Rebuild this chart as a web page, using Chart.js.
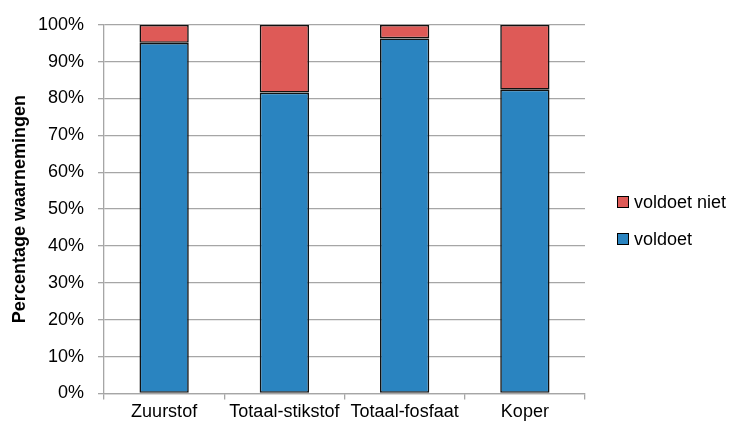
<!DOCTYPE html>
<html><head><meta charset="utf-8">
<script src="https://cdn.jsdelivr.net/npm/chart.js@4/dist/chart.umd.min.js"></script>
<style>
html,body{margin:0;padding:0;background:#fff;}
#wrap{position:relative;width:737px;height:425px;}
#legend{position:absolute;left:617px;top:192px;font-family:"Liberation Sans",Arial,sans-serif;font-size:18px;color:#000;}
#legend div{display:flex;align-items:center;height:20px;margin-bottom:17px;}
#legend span.box{display:inline-block;width:10px;height:10px;border:1.5px solid #000;margin-right:5px;}
</style></head>
<body><div id="wrap"><canvas id="c" width="737" height="425"></canvas><div id="legend"></div></div>
<script>
const categories = ["Zuurstof","Totaal-stikstof","Totaal-fosfaat","Koper"];
const voldoet = [95.1, 81.6, 96.3, 82.4];
const voldoetNiet = [4.9, 18.4, 3.7, 17.6];
const seriesNames = ["voldoet","voldoet niet"];
const colors = ["#2A84C0","#DE5A57"];
const yTicks = [0,10,20,30,40,50,60,70,80,90,100];

const FONT = '"Liberation Sans", Arial, sans-serif';
const chart = new Chart(document.getElementById('c'), {
  type: 'bar',
  data: {
    labels: categories,
    datasets: [
      {label: seriesNames[0], data: voldoet, backgroundColor: colors[0], borderColor:'#111', borderWidth:1.6, borderSkipped:false, barPercentage:0.41, categoryPercentage:1},
      {label: seriesNames[1], data: voldoetNiet, backgroundColor: colors[1], borderColor:'#111', borderWidth:1.6, borderSkipped:false, barPercentage:0.41, categoryPercentage:1}
    ]
  },
  options: {
    responsive:false, animation:false,
    layout:{padding:{top:23, right:152, left:9, bottom:0}},
    plugins:{legend:{display:false}, tooltip:{enabled:false}},
    scales:{
      x:{stacked:true, offset:true,
        grid:{display:true, offset:true, drawOnChartArea:false, drawTicks:true, tickLength:6, color:'#a6a6a6', lineWidth:1.3},
        border:{display:true, color:'#a6a6a6', width:1.3},
        ticks:{font:{family:FONT,size:18}, color:'#000', padding:2, maxRotation:0, autoSkip:false}
      },
      y:{stacked:true, min:0, max:100,
        afterBuildTicks: s => { s.ticks = yTicks.map(v=>({value:v})); },
        afterFit: s => { s.width = 95; },
        grid:{color:'#a6a6a6', lineWidth:1.3, tickLength:6},
        border:{display:true, color:'#a6a6a6', width:1.3},
        ticks:{font:{family:FONT,size:18}, color:'#000', padding:14, callback:v=>v+'%'},
        title:{display:true, text:'Percentage waarnemingen', font:{family:FONT,size:18,weight:'bold'}, color:'#000', padding:{top:0,bottom:4}}
      }
    }
  }
});
const lg = document.getElementById('legend');
[1,0].forEach(i=>{
  const d=document.createElement('div');
  d.innerHTML='<span class="box" style="background:'+colors[i]+'"></span>'+chart.data.datasets[i].label;
  lg.appendChild(d);
});
</script></body></html>
